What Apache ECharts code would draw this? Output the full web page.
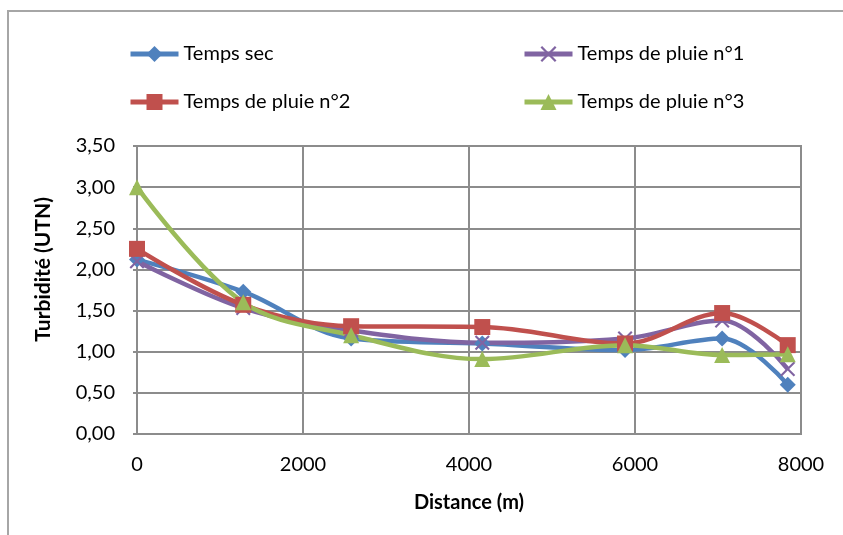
<!DOCTYPE html>
<html>
<head>
<meta charset="utf-8">
<script src="https://cdn.jsdelivr.net/npm/echarts@6/dist/echarts.min.js"></script>
<style>
html,body{margin:0;padding:0;background:#fff;}
#frame{position:absolute;left:7px;top:10px;width:900px;height:600px;border-top:2px solid #a6a6a6;border-left:2px solid #a6a6a6;}
#chart{position:absolute;left:0;top:0;width:843px;height:535px;}
</style>
</head>
<body>
<div id="frame"></div>
<div id="chart"></div>
<script>
const distances = [0, 1280, 2580, 4160, 5880, 7050, 7840];
const tempsSec = [2.12, 1.73, 1.16, 1.10, 1.02, 1.16, 0.60];
const pluie1 = [2.10, 1.53, 1.26, 1.11, 1.16, 1.38, 0.79];
const pluie2 = [2.25, 1.57, 1.31, 1.30, 1.10, 1.47, 1.08];
const pluie3 = [3.00, 1.60, 1.20, 0.91, 1.08, 0.96, 0.97];
const seriesNames = ['Temps sec', 'Temps de pluie n°1', 'Temps de pluie n°2', 'Temps de pluie n°3'];
const yAxisTitle = 'Turbidité (UTN)';
const xAxisTitle = 'Distance (m)';

const FONT = "Lato, 'Liberation Sans', sans-serif";
const xPath = 'path://M0,1 L1,0 L5,4 L9,0 L10,1 L6,5 L10,9 L9,10 L5,6 L1,10 L0,9 L4,5 Z';

function mk(name, vals, color, symbol, size) {
  return {
    name: name, type: 'line', smooth: 0.35,
    data: distances.map((d, i) => [d, vals[i]]),
    symbol: symbol, symbolSize: size, showSymbol: true,
    lineStyle: { color: color, width: 4.5 },
    itemStyle: { color: color, borderWidth: 0 },
    emphasis: { disabled: true }
  };
}

const chart = echarts.init(document.getElementById('chart'), null, { renderer: 'canvas' });
const legendText = { fontFamily: FONT, fontSize: 20, color: '#000' };
const legendCommon = { orient: 'vertical', top: 44, itemWidth: 48, itemHeight: 20, itemGap: 28, textStyle: legendText, padding: 0, lineStyle: { width: 5 } };
chart.setOption({
  animation: false,
  backgroundColor: 'transparent',
  legend: [
    Object.assign({ data: [seriesNames[0], seriesNames[2]], left: 128 }, legendCommon),
    Object.assign({ data: [seriesNames[1], seriesNames[3]], left: 522 }, legendCommon)
  ],
  graphic: [{
    type: 'text', left: 33, top: 197,
    rotation: Math.PI / 2, originX: 0, originY: 0,
    style: { text: yAxisTitle, font: "bold 21px " + FONT, fill: '#000' },
    silent: true
  }],
  grid: { left: 137, right: 42, top: 146, bottom: 101, show: true, borderColor: '#8c8c8c', borderWidth: 2, containLabel: false },
  xAxis: {
    type: 'value', min: 0, max: 8000, interval: 2000,
    name: xAxisTitle, nameLocation: 'middle', nameGap: 59,
    nameTextStyle: { fontFamily: FONT, fontSize: 20, fontWeight: 'bold', color: '#000' },
    axisLine: { lineStyle: { color: '#8c8c8c', width: 2 } },
    axisTick: { show: false },
    axisLabel: { fontFamily: FONT, fontSize: 20, color: '#000', margin: 21, formatter: v => String(v) },
    splitLine: { show: true, lineStyle: { color: '#8c8c8c', width: 2 } }
  },
  yAxis: {
    type: 'value', min: 0, max: 3.5, interval: 0.5,
    axisLine: { show: true, lineStyle: { color: '#8c8c8c', width: 2 } },
    axisTick: { show: true, length: 4, lineStyle: { color: '#8c8c8c', width: 2 } },
    axisLabel: { fontFamily: FONT, fontSize: 20, color: '#000', margin: 22, formatter: v => v.toFixed(2).replace('.', ',') },
    splitLine: { show: true, lineStyle: { color: '#8c8c8c', width: 2 } }
  },
  series: [
    mk(seriesNames[0], tempsSec, '#4F81BD', 'diamond', 16),
    mk(seriesNames[1], pluie1, '#8064A2', xPath, 15),
    mk(seriesNames[2], pluie2, '#C0504D', 'rect', 16),
    mk(seriesNames[3], pluie3, '#9BBB59', 'triangle', 16)
  ]
});
</script>
</body>
</html>
